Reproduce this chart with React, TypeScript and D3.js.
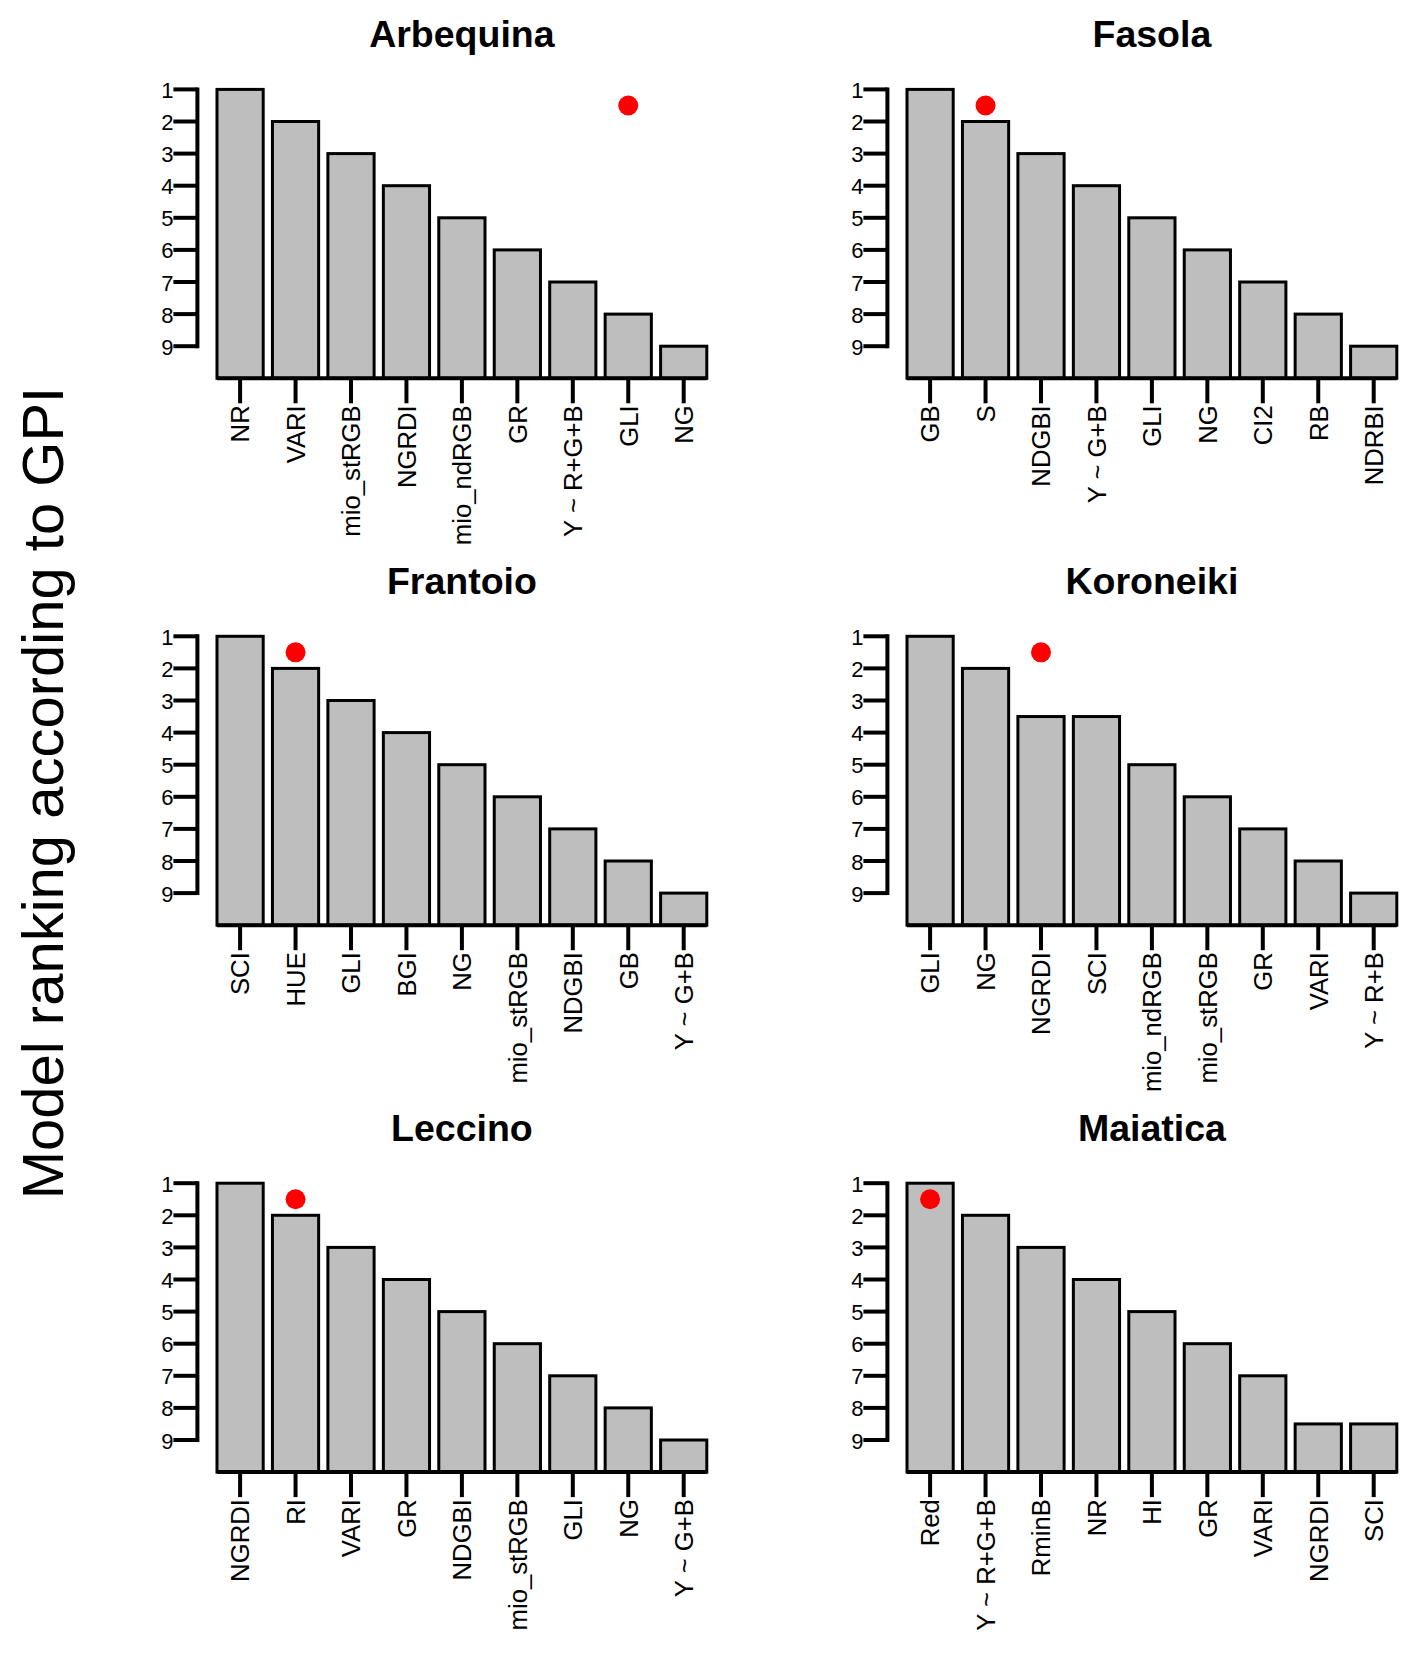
import React from "react";
import * as d3 from "d3";

// ---- Data ----
const cultivars = ["Arbequina", "Fasola", "Frantoio", "Koroneiki", "Leccino", "Maiatica"];

const arbequinaModels = ["NR", "VARI", "mio_stRGB", "NGRDI", "mio_ndRGB", "GR", "Y ~ R+G+B", "GLI", "NG"];
const arbequinaRanks = [1, 2, 3, 4, 5, 6, 7, 8, 9];

const fasolaModels = ["GB", "S", "NDGBI", "Y ~ G+B", "GLI", "NG", "CI2", "RB", "NDRBI"];
const fasolaRanks = [1, 2, 3, 4, 5, 6, 7, 8, 9];

const frantoioModels = ["SCI", "HUE", "GLI", "BGI", "NG", "mio_stRGB", "NDGBI", "GB", "Y ~ G+B"];
const frantoioRanks = [1, 2, 3, 4, 5, 6, 7, 8, 9];

const koroneikiModels = ["GLI", "NG", "NGRDI", "SCI", "mio_ndRGB", "mio_stRGB", "GR", "VARI", "Y ~ R+B"];
const koroneikiRanks = [1, 2, 3.5, 3.5, 5, 6, 7, 8, 9];

const leccinoModels = ["NGRDI", "RI", "VARI", "GR", "NDGBI", "mio_stRGB", "GLI", "NG", "Y ~ G+B"];
const leccinoRanks = [1, 2, 3, 4, 5, 6, 7, 8, 9];

const maiaticaModels = ["Red", "Y ~ R+G+B", "RminB", "NR", "HI", "GR", "VARI", "NGRDI", "SCI"];
const maiaticaRanks = [1, 2, 3, 4, 5, 6, 7, 8.5, 8.5];

// model marked with a red dot in each panel, and the rank level of the dot
const markedModels = ["GLI", "S", "HUE", "NGRDI", "RI", "Red"];
const markedRank = 1.5;

const yTicks = [1, 2, 3, 4, 5, 6, 7, 8, 9];
const yAxisTitle = "Model ranking according to GPI";

const panelModels = [arbequinaModels, fasolaModels, frantoioModels, koroneikiModels, leccinoModels, maiaticaModels];
const panelRanks = [arbequinaRanks, fasolaRanks, frantoioRanks, koroneikiRanks, leccinoRanks, maiaticaRanks];

// ---- Layout ----
const W = 1417;
const H = 1654;
const FONT = "'Liberation Sans', Arial, Helvetica, sans-serif";
const colOffset = 690;
const rowOffset = 546.9;
const plotLeft = 197.4;
const plotRight = 726.4;
const firstTickY = 89.4;
const rankStep = 32.1;
const barFill = "#BEBEBE";

function Panel({ idx }: { idx: number }) {
  const col = idx % 2;
  const row = Math.floor(idx / 2);
  const ox = col * colOffset;
  const oy = row * rowOffset;
  const models = panelModels[idx];
  const ranks = panelRanks[idx];
  const n = models.length;

  // R barplot coordinates: width 1, space 0.2
  const lefts = models.map((_, i) => 0.2 + i * 1.2);
  const xMin = 0.2;
  const xMax = 0.2 + n * 1.2 - 0.2;
  const ext = (xMax - xMin) * 0.04;
  const x = d3.scaleLinear().domain([xMin - ext, xMax + ext]).range([plotLeft + ox, plotRight + ox]);
  const y = d3
    .scaleLinear()
    .domain([1, 10])
    .range([firstTickY + oy, firstTickY + oy + 9 * rankStep]);

  const axisX = x(xMin - ext);
  const baseY = y(10);
  const tickLen = 24;
  const xLabFont = 25.7;
  const markIdx = models.indexOf(markedModels[idx]);

  return (
    <g>
      <text
        x={(x(xMin - ext) + x(xMax + ext)) / 2}
        y={y(1) - 42.5}
        textAnchor="middle"
        fontFamily={FONT}
        fontWeight="bold"
        fontSize={37.5}
        fill="#000"
      >
        {cultivars[idx]}
      </text>
      {/* bars */}
      {models.map((m, i) => (
        <rect
          key={m + i}
          x={x(lefts[i])}
          y={y(ranks[i])}
          width={x(lefts[i] + 1) - x(lefts[i])}
          height={baseY - y(ranks[i])}
          fill={barFill}
          stroke="#000"
          strokeWidth={3}
        />
      ))}
      {/* baseline */}
      <line x1={x(xMin)} x2={x(xMax)} y1={baseY} y2={baseY} stroke="#000" strokeWidth={4} />
      {/* y axis */}
      <line x1={axisX} x2={axisX} y1={y(yTicks[0])} y2={y(yTicks[yTicks.length - 1])} stroke="#000" strokeWidth={4} strokeLinecap="square" />
      {yTicks.map((t) => (
        <g key={t}>
          <line x1={axisX - tickLen} x2={axisX} y1={y(t)} y2={y(t)} stroke="#000" strokeWidth={4} />
          <text x={axisX - tickLen} y={y(t) + 8.5} textAnchor="end" fontFamily={FONT} fontSize={22} fill="#000">
            {t}
          </text>
        </g>
      ))}
      {/* x ticks and labels */}
      {models.map((m, i) => {
        const cx = x(lefts[i] + 0.5);
        return (
          <g key={"xt" + m + i}>
            <line x1={cx} x2={cx} y1={baseY} y2={baseY + 25} stroke="#000" strokeWidth={4} />
            <text
              transform={`translate(${cx + 0.36 * xLabFont},${baseY + 27}) rotate(-90)`}
              textAnchor="end"
              fontFamily={FONT}
              fontSize={xLabFont}
              fill="#000"
            >
              {m}
            </text>
          </g>
        );
      })}
      {/* marked model */}
      {markIdx >= 0 && <circle cx={x(lefts[markIdx] + 0.5)} cy={y(markedRank)} r={10} fill="#FF0000" />}
    </g>
  );
}

export default function App() {
  return (
    <svg
      width={W}
      height={H}
      viewBox={`0 0 ${W} ${H}`}
      style={{ position: "absolute", left: 0, top: 0, background: "#fff" }}
    >
      <rect x={0} y={0} width={W} height={H} fill="#fff" />
      <text
        transform={`translate(63,793) rotate(-90)`}
        textAnchor="middle"
        fontFamily={FONT}
        fontSize={58}
        fill="#000"
      >
        {yAxisTitle}
      </text>
      {cultivars.map((_, i) => (
        <Panel key={i} idx={i} />
      ))}
    </svg>
  );
}
